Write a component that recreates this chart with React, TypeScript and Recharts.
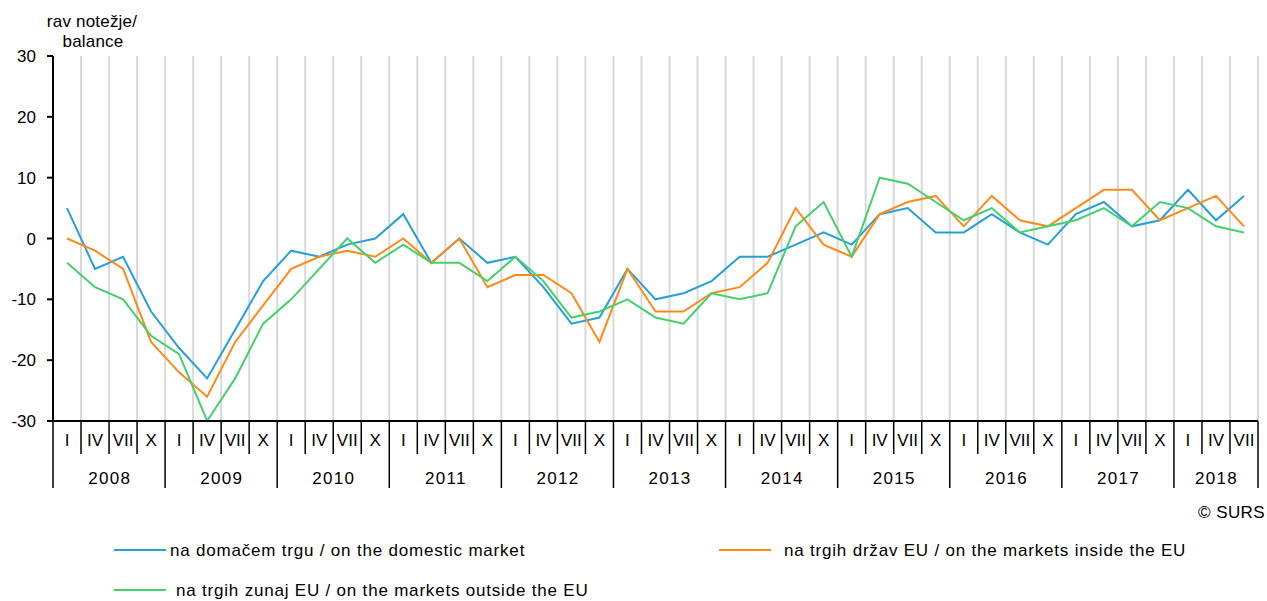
import { CartesianGrid, Line, LineChart, XAxis, YAxis } from 'recharts';

const YEARS = ['2008', '2009', '2010', '2011', '2012', '2013', '2014', '2015', '2016', '2017', '2018'];
const QUARTERS = ['I', 'IV', 'VII', 'X'];

const DOMESTIC = [
  5, -5, -3, -12, -18, -23, -15, -7, -2, -3, -1, 0, 4, -4, 0, -4, -3, -8, -14, -13, -5, -10,
  -9, -7, -3, -3, -1, 1, -1, 4, 5, 1, 1, 4, 1, -1, 4, 6, 2, 3, 8, 3, 7
];
const INSIDE_EU = [
  0, -2, -5, -17, -22, -26, -17, -11, -5, -3, -2, -3, 0, -4, 0, -8, -6, -6, -9, -17, -5, -12,
  -12, -9, -8, -4, 5, -1, -3, 4, 6, 7, 2, 7, 3, 2, 5, 8, 8, 3, 5, 7, 2
];
const OUTSIDE_EU = [
  -4, -8, -10, -16, -19, -30, -23, -14, -10, -5, 0, -4, -1, -4, -4, -7, -3, -7, -13, -12, -10, -13,
  -14, -9, -10, -9, 2, 6, -3, 10, 9, 6, 3, 5, 1, 2, 3, 5, 2, 6, 5, 2, 1
];
const Y_TICKS = [-30, -20, -10, 0, 10, 20, 30];

const BLUE = '#27a0d8';
const ORANGE = '#ff8a1c';
const GREEN = '#45d06c';
const FONT = '"Liberation Sans", Arial, sans-serif';

const WIDTH = 1267;
const HEIGHT = 601;
const TOP = 56;
const LEFT = 53;
const RIGHT = 9;
const X_AXIS_H = 180;
const AXIS_Y = HEIGHT - X_AXIS_H;

const categories = YEARS.flatMap((year) => QUARTERS.map((q) => ({ year, q }))).slice(0, DOMESTIC.length);
const data = categories.map((c, i) => ({
  key: `${c.year} ${c.q}`,
  year: c.year,
  q: c.q,
  domestic: DOMESTIC[i],
  insideEu: INSIDE_EU[i],
  outsideEu: OUTSIDE_EU[i]
}));

const BAND = (WIDTH - LEFT - RIGHT) / data.length;

function QuarterTick(props: any) {
  const { x, index } = props;
  const row = data[index];
  if (!row) return null;
  const left = x - BAND / 2;
  const yearStart = row.q === 'I';
  const yearCount = data.filter((d) => d.year === row.year).length;
  const isLast = index === data.length - 1;
  return (
    <g>
      <line x1={left} x2={left} y1={AXIS_Y} y2={AXIS_Y + (yearStart ? 67 : 33)} stroke="#000" strokeWidth={1.5} />
      {isLast ? (
        <line x1={left + BAND} x2={left + BAND} y1={AXIS_Y} y2={AXIS_Y + 67} stroke="#000" strokeWidth={1.5} />
      ) : null}
      <text x={x} y={AXIS_Y + 25} textAnchor="middle" fontSize={17} fontFamily={FONT} fill="#000">
        {row.q}
      </text>
      {yearStart ? (
        <text
          x={left + (yearCount * BAND) / 2 + 0.6}
          y={AXIS_Y + 63}
          textAnchor="middle"
          fontSize={17}
          letterSpacing={1.3}
          fontFamily={FONT}
          fill="#000"
        >
          {row.year}
        </text>
      ) : null}
    </g>
  );
}

const legendItems = [
  { label: 'na domačem trgu / on the domestic market', color: BLUE, x: 114, y: 550, textX: 170 },
  { label: 'na trgih držav EU / on the markets inside the EU', color: ORANGE, x: 719, y: 550, textX: 784 },
  { label: 'na trgih zunaj EU / on the markets outside the EU', color: GREEN, x: 114, y: 590, textX: 176 }
];

export default function App() {
  return (
    <div
      style={{
        position: 'absolute',
        left: 0,
        top: 0,
        width: WIDTH,
        height: HEIGHT,
        background: '#fff',
        fontFamily: FONT
      }}
    >
      <LineChart data={data} height={HEIGHT} margin={{ bottom: 0, left: 0, right: RIGHT, top: TOP }} width={WIDTH}>
        <CartesianGrid
          horizontal={false}
          stroke="#d9d9d9"
          strokeWidth={2}
          verticalCoordinatesGenerator={({ offset }: any) =>
            data.map((_, i) => offset.left + ((i + 1) * offset.width) / data.length)
          }
        />
        <XAxis
          axisLine={{ stroke: '#000', strokeWidth: 2 }}
          dataKey="key"
          height={X_AXIS_H}
          interval={0}
          scale="band"
          tick={<QuarterTick />}
          tickLine={false}
          tickMargin={0}
          tickSize={0}
        />
        <YAxis
          axisLine={{ stroke: '#000', strokeWidth: 2 }}
          domain={[-30, 30]}
          interval={0}
          tick={{ fill: '#000', fontFamily: FONT, fontSize: 17 }}
          tickLine={{ stroke: '#000', strokeWidth: 2 }}
          tickMargin={11}
          tickSize={6}
          ticks={Y_TICKS}
          type="number"
          width={LEFT}
        />
        <Line dataKey="domestic" dot={false} isAnimationActive={false} stroke={BLUE} strokeWidth={2} type="linear" />
        <Line dataKey="insideEu" dot={false} isAnimationActive={false} stroke={ORANGE} strokeWidth={2} type="linear" />
        <Line dataKey="outsideEu" dot={false} isAnimationActive={false} stroke={GREEN} strokeWidth={2} type="linear" />
      </LineChart>

      <svg
        height={HEIGHT}
        style={{ left: 0, pointerEvents: 'none', position: 'absolute', top: 0 }}
        width={WIDTH}
      >
        <text x={92} y={27} textAnchor="middle" fontSize={17} letterSpacing={0.2} fontFamily={FONT} fill="#000">
          rav notežje/
        </text>
        <text x={93} y={47} textAnchor="middle" fontSize={17} letterSpacing={0.2} fontFamily={FONT} fill="#000">
          balance
        </text>
        <text x={1265} y={518} textAnchor="end" fontSize={17} letterSpacing={0.4} fontFamily={FONT} fill="#000">
          © SURS
        </text>
        {legendItems.map((item) => (
          <g key={item.label}>
            <line x1={item.x} x2={item.x + 52} y1={item.y} y2={item.y} stroke={item.color} strokeWidth={2} />
            <text x={item.textX} y={item.y + 6} fontSize={17} letterSpacing={0.8} fontFamily={FONT} fill="#000">
              {item.label}
            </text>
          </g>
        ))}
      </svg>
    </div>
  );
}
